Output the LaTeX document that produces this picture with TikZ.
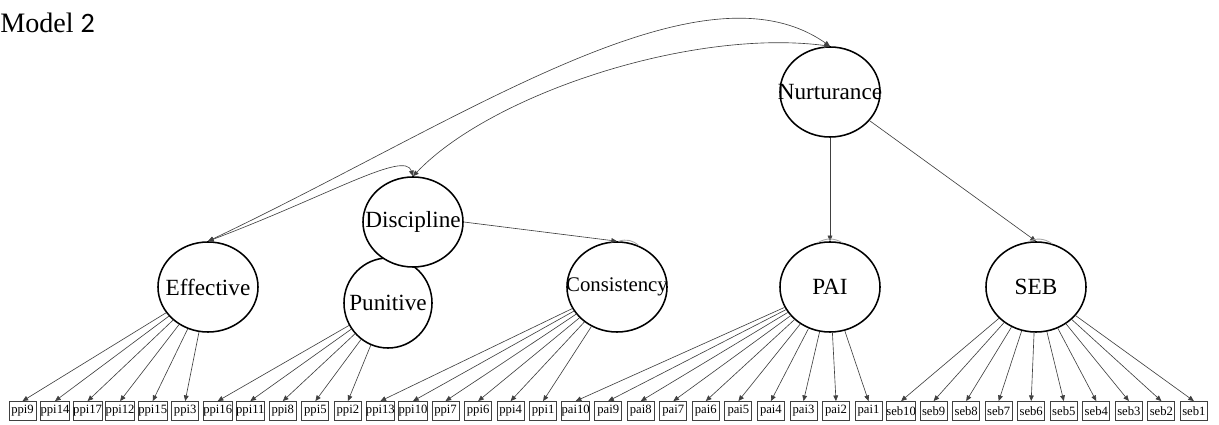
\documentclass[tikz,border=0pt]{standalone}
\usepackage{fontspec}
\setmainfont{Liberation Serif}
\newfontfamily\digitfont{Carlito}
\usepackage{tikz}
\usetikzlibrary{shapes.geometric, arrows.meta}

\begin{document}
\begin{tikzpicture}[
  x=0.025cm, y=-0.025cm,
  latent/.style={ellipse, draw, fill=white, line width=1.1pt, inner sep=0pt, minimum width=2.5cm, minimum height=2.25cm, font=\rmfamily\fontsize{16.5}{18}\selectfont},
  item/.style={rectangle, draw=black!75, line width=0.6pt, inner sep=0pt, minimum width=0.675cm, minimum height=0.475cm, font=\rmfamily\fontsize{9}{10}\selectfont},
  load/.style={-{Triangle[length=4pt,width=3.4pt]}, draw=black!75, line width=0.45pt},
  cov/.style={{Triangle[length=4pt,width=3.4pt]}-{Triangle[length=4pt,width=3.4pt]}, draw=black!75, line width=0.45pt},
  resid/.style={draw=black!35, line width=0.6pt},
]
  \useasboundingbox (0,0) rectangle (1219,425);

  \node[anchor=base west, inner sep=0pt, font=\rmfamily\fontsize{20}{22}\selectfont] (title) at (0,33) {Model {\digitfont 2}};

  % latent variables
  \node[latent] (Nurt) at (830,92) {\makebox[0pt]{Nurturance}};
  \node[latent, minimum width=2.2cm] (Pun) at (388,303) {\makebox[0pt]{Punitive}};
  \node[latent] (Disc) at (413,222) {\makebox[0pt]{Discipline}};
  \node[latent] (Eff) at (208,287) {\makebox[0pt]{Effective}};
  \node[latent, font=\rmfamily\fontsize{14.8}{16}\selectfont] (Cons) at (617,287) {\makebox[0pt]{Consistency}};
  \node[latent] (PAI) at (830,287) {PAI};
  \node[latent] (SEB) at (1036,287) {SEB};

  % observed items
  \node[item] (ppi9) at (22.5,411) {ppi9};
  \node[item] (ppi14) at (55.0,411) {ppi14};
  \node[item] (ppi17) at (87.6,411) {ppi17};
  \node[item] (ppi12) at (120.1,411) {ppi12};
  \node[item] (ppi15) at (152.7,411) {ppi15};
  \node[item] (ppi3) at (185.2,411) {ppi3};
  \node[item] (ppi16) at (217.7,411) {ppi16};
  \node[item] (ppi11) at (250.3,411) {ppi11};
  \node[item] (ppi8) at (282.8,411) {ppi8};
  \node[item] (ppi5) at (315.4,411) {ppi5};
  \node[item] (ppi2) at (347.9,411) {ppi2};
  \node[item] (ppi13) at (380.4,411) {ppi13};
  \node[item] (ppi10) at (413.0,411) {ppi10};
  \node[item] (ppi7) at (445.5,411) {ppi7};
  \node[item] (ppi6) at (478.1,411) {ppi6};
  \node[item] (ppi4) at (510.6,411) {ppi4};
  \node[item] (ppi1) at (543.1,411) {ppi1};
  \node[item] (pai10) at (575.7,411) {pai10};
  \node[item] (pai9) at (608.2,411) {pai9};
  \node[item] (pai8) at (640.8,411) {pai8};
  \node[item] (pai7) at (673.3,411) {pai7};
  \node[item] (pai6) at (705.8,411) {pai6};
  \node[item] (pai5) at (738.4,411) {pai5};
  \node[item] (pai4) at (770.9,411) {pai4};
  \node[item] (pai3) at (803.5,411) {pai3};
  \node[item] (pai2) at (836.0,411) {pai2};
  \node[item] (pai1) at (868.5,411) {pai1};
  \node[item] (seb10) at (901.1,411) {seb10};
  \node[item] (seb9) at (933.6,411) {seb9};
  \node[item] (seb8) at (966.2,411) {seb8};
  \node[item] (seb7) at (998.7,411) {seb7};
  \node[item] (seb6) at (1031.2,411) {seb6};
  \node[item] (seb5) at (1063.8,411) {seb5};
  \node[item] (seb4) at (1096.3,411) {seb4};
  \node[item] (seb3) at (1128.9,411) {seb3};
  \node[item] (seb2) at (1161.4,411) {seb2};
  \node[item] (seb1) at (1193.9,411) {seb1};

  % structural paths
  \draw[load] (Disc.east) -- (Cons.north);
  \draw[load] (Nurt) -- (PAI.north);
  \draw[load] (Nurt) -- (SEB.north);

  % covariances
  \draw[cov] (Eff.north) .. controls (463,120) and (700,-45) .. (Nurt.north);
  \draw[cov] (Disc.north) .. controls (490,95) and (690,28) .. (Nurt.north);
  \draw[cov] (Eff.north) .. controls (330,195) and (405,150) .. (Disc.north);

  % residuals
  \draw[resid] (Cons.88) to[bend left=30] (Cons.62);
  \draw[resid] (PAI.105) to[bend left=30] (PAI.75);
  \draw[resid] (SEB.100) to[bend left=30] (SEB.70);

  % loadings
  \draw[load] (Eff) -- (ppi9.north);
  \draw[load] (Eff) -- (ppi14.north);
  \draw[load] (Eff) -- (ppi17.north);
  \draw[load] (Eff) -- (ppi12.north);
  \draw[load] (Eff) -- (ppi15.north);
  \draw[load] (Eff) -- (ppi3.north);
  \draw[load] (Pun) -- (ppi16.north);
  \draw[load] (Pun) -- (ppi11.north);
  \draw[load] (Pun) -- (ppi8.north);
  \draw[load] (Pun) -- (ppi5.north);
  \draw[load] (Pun) -- (ppi2.north);
  \draw[load] (Cons) -- (ppi13.north);
  \draw[load] (Cons) -- (ppi10.north);
  \draw[load] (Cons) -- (ppi7.north);
  \draw[load] (Cons) -- (ppi6.north);
  \draw[load] (Cons) -- (ppi4.north);
  \draw[load] (Cons) -- (ppi1.north);
  \draw[load] (PAI) -- (pai10.north);
  \draw[load] (PAI) -- (pai9.north);
  \draw[load] (PAI) -- (pai8.north);
  \draw[load] (PAI) -- (pai7.north);
  \draw[load] (PAI) -- (pai6.north);
  \draw[load] (PAI) -- (pai5.north);
  \draw[load] (PAI) -- (pai4.north);
  \draw[load] (PAI) -- (pai3.north);
  \draw[load] (PAI) -- (pai2.north);
  \draw[load] (PAI) -- (pai1.north);
  \draw[load] (SEB) -- (seb10.north);
  \draw[load] (SEB) -- (seb9.north);
  \draw[load] (SEB) -- (seb8.north);
  \draw[load] (SEB) -- (seb7.north);
  \draw[load] (SEB) -- (seb6.north);
  \draw[load] (SEB) -- (seb5.north);
  \draw[load] (SEB) -- (seb4.north);
  \draw[load] (SEB) -- (seb3.north);
  \draw[load] (SEB) -- (seb2.north);
  \draw[load] (SEB) -- (seb1.north);
\end{tikzpicture}
\end{document}
